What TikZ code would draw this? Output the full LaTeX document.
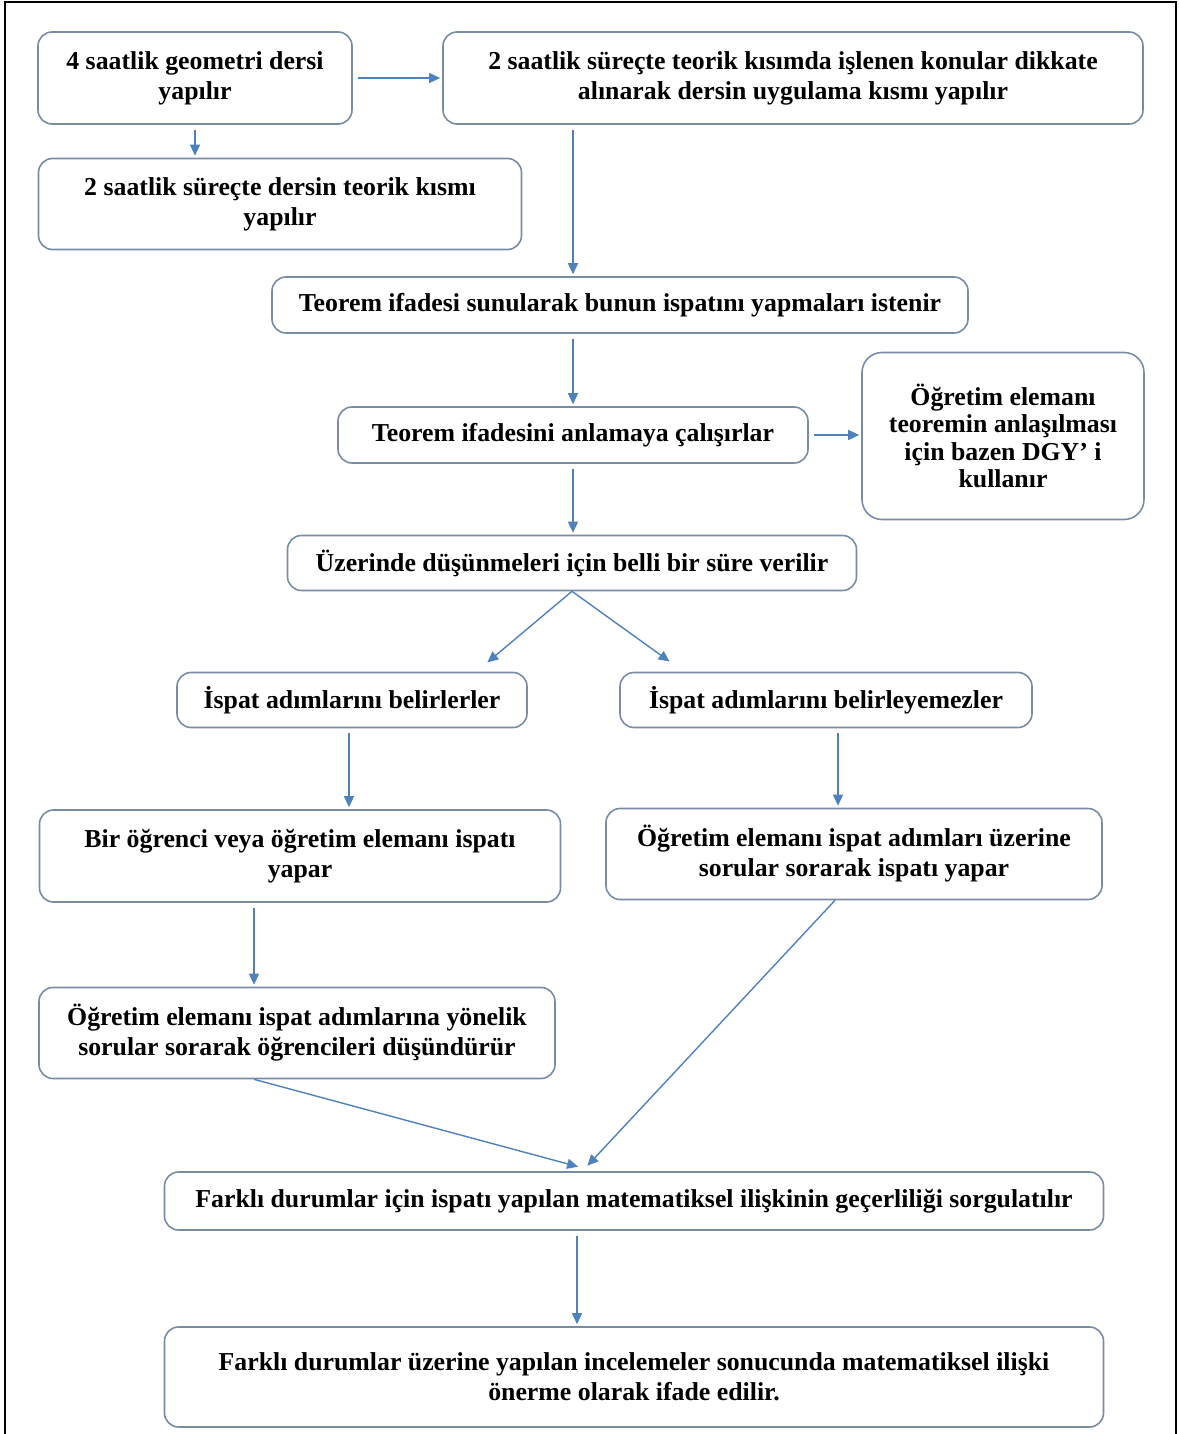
\documentclass[tikz,border=0pt]{standalone}
\usepackage{fontspec}
\setmainfont{Liberation Serif}
\usetikzlibrary{arrows.meta,calc}
\definecolor{boxline}{RGB}{120,140,165}
\definecolor{arrowblue}{RGB}{79,129,189}

\begin{document}
\begin{tikzpicture}[x=0.5pt, y=-0.5pt,
        flowbox/.style={draw=boxline, line width=0.8pt, rounded corners=7pt, align=center,
            inner sep=0pt, font=\fontsize{12.9}{15}\selectfont\bfseries},
        flow/.style={draw=arrowblue, line width=0.7pt, shorten <=2.5pt, shorten >=1pt,
            -{Triangle[length=5.5pt, width=5pt]}}]
        \useasboundingbox (0,0) rectangle (1178,1434);

        % -- outer frame ---------------------------------------------------------
        \draw[line width=1pt] (5,1440) -- (5,2) -- (1176,2) -- (1176,1440);

        % -- lesson and its two parts --------------------------------------------
        \node[flowbox, minimum width=157pt, minimum height=46pt] (lesson) at (195,78)
            {4 saatlik geometri dersi\\ yapılır};
        \node[flowbox, minimum width=350pt, minimum height=46pt] (practice) at (793,78)
            {2 saatlik süreçte teorik kısımda işlenen konular dikkate\\ alınarak dersin uygulama kısmı yapılır};
        \node[flowbox, minimum width=241.5pt, minimum height=45.5pt] (theory) at (280,204)
            {2 saatlik süreçte dersin teorik kısmı\\ yapılır};

        % -- theorem steps -------------------------------------------------------
        \node[flowbox, minimum width=348pt, minimum height=28pt] (theorem) at (620,305)
            {Teorem ifadesi sunularak bunun ispatını yapmaları istenir};
        \node[flowbox, minimum width=235pt, minimum height=28pt] (understand) at (573,435)
            {Teorem ifadesini anlamaya çalışırlar};
        \node[flowbox, rounded corners=10pt, minimum width=141pt, minimum height=83.5pt,
            font=\fontsize{12.9}{13.8}\selectfont\bfseries] (dgy) at (1003,436)
            {Öğretim elemanı\\ teoremin anlaşılması\\ için bazen DGY’ i\\ kullanır};
        \node[flowbox, minimum width=284.5pt, minimum height=27.5pt] (think) at (572,563)
            {Üzerinde düşünmeleri için belli bir süre verilir};

        % -- two branches --------------------------------------------------------
        \node[flowbox, minimum width=175pt, minimum height=27.5pt] (found) at (352,700)
            {İspat adımlarını belirlerler};
        \node[flowbox, minimum width=206pt, minimum height=27.5pt] (notfound) at (826,700)
            {İspat adımlarını belirleyemezler};
        \node[flowbox, minimum width=260.5pt, minimum height=46pt] (proof) at (300,856)
            {Bir öğrenci veya öğretim elemanı ispatı\\ yapar};
        \node[flowbox, minimum width=248pt, minimum height=45.5pt] (guided) at (854,854)
            {Öğretim elemanı ispat adımları üzerine\\ sorular sorarak ispatı yapar};
        \node[flowbox, minimum width=258pt, minimum height=45.5pt] (askstud) at (297,1033)
            {Öğretim elemanı ispat adımlarına yönelik\\ sorular sorarak öğrencileri düşündürür};

        % -- closing steps -------------------------------------------------------
        \node[flowbox, minimum width=469.5pt, minimum height=29pt] (validity) at (634,1201)
            {Farklı durumlar için ispatı yapılan matematiksel ilişkinin geçerliliği sorgulatılır};
        \node[flowbox, minimum width=469.5pt, minimum height=50pt] (proposition) at (634,1377)
            {Farklı durumlar üzerine yapılan incelemeler sonucunda matematiksel ilişki\\ önerme olarak ifade edilir.};

        % -- arrows --------------------------------------------------------------
        \draw[flow] (lesson.east) -- (practice.west);
        \draw[flow] (lesson.south) -- (lesson.south |- theory.north);
        \draw[flow] (practice.south -| understand.north) -- (theorem.north -| understand.north);
        \draw[flow] (theorem.south -| understand.north) -- (understand.north);
        \draw[flow] (understand.east) -- (dgy.west |- understand.east);
        \draw[flow] (understand.south) -- (understand.south |- think.north);
        \draw[flow, shorten <=0pt] (think.south) -- ($(found.north east)+(-42,-8)$);
        \draw[flow, shorten <=0pt] (think.south) -- ($(notfound.north west)+(52,-9)$);
        \draw[flow] ($(found.south)+(-3,0)$) -- ($(found.south |- proof.north)+(-3,0)$);
        \draw[flow] ($(notfound.south)+(12,0)$) -- ($(notfound.south |- guided.north)+(12,0)$);
        \draw[flow] ($(proof.south)+(-46,0)$) -- ($(proof.south |- askstud.north)+(-46,0)$);
        \draw[flow, shorten <=0pt] ($(askstud.south)+(-43,0)$) -- ($(validity.north)+(-54,-4)$);
        \draw[flow, shorten <=0pt] ($(guided.south)+(-19,0)$) -- ($(validity.north)+(-48,-4)$);
        \draw[flow] ($(validity.south)+(-57,0)$) -- ($(validity.south |- proposition.north)+(-57,0)$);
    \end{tikzpicture}
\end{document}
